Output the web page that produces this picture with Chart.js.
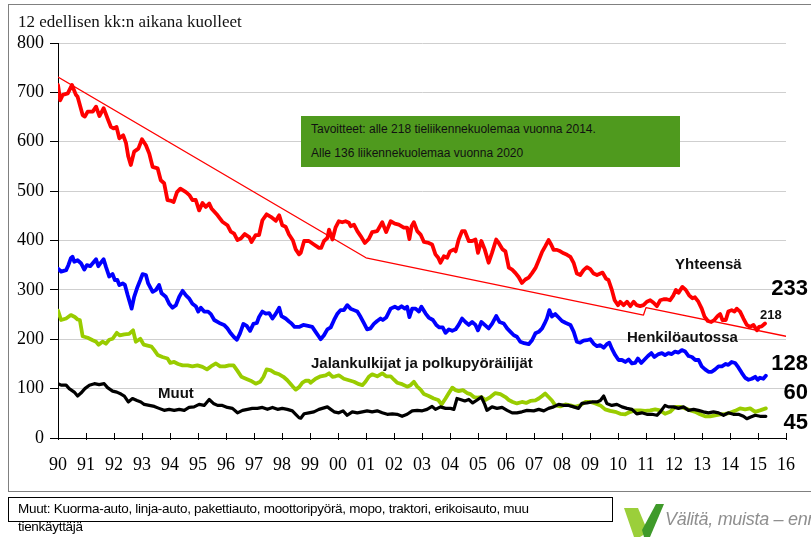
<!DOCTYPE html>
<html lang="fi">
<head>
<meta charset="UTF-8">
<title>Liikennekuolemat</title>
<script src="https://cdn.jsdelivr.net/npm/chart.js"></script>
<style>
  html, body { margin: 0; padding: 0; background: #fff; }
  #wrap { position: relative; width: 811px; height: 537px; overflow: hidden; font-family: "Liberation Sans", Arial, sans-serif; }
  #chart { position: absolute; left: 0; top: 0; }
  .frame { position: absolute; left: 8px; top: 4px; width: 810px; height: 486px; border: 1px solid #808080; }
  .t { position: absolute; white-space: nowrap; }
  .title { left: 18px; top: 12px; font: 17px/20px "Liberation Serif", "Times New Roman", serif; color: #111; }
  .goal { position: absolute; left: 301px; top: 116px; width: 379px; height: 51px; background: #4f9a1e; }
  .goal div { position: absolute; left: 10px; font: 12px/16px "Liberation Sans", Arial, sans-serif; color: #111; white-space: nowrap; }
  .lbl { font: bold 15px/18px "Liberation Sans", Arial, sans-serif; color: #111; }
  .big { font: bold 22px/26px "Liberation Sans", Arial, sans-serif; color: #000; text-align: right; width: 60px; }
  .note { position: absolute; left: 8px; top: 497px; width: 603px; height: 23px; border: 1px solid #000; }
  .notetext { left: 18px; top: 500px; font: 13.5px/18px "Liberation Sans", Arial, sans-serif; letter-spacing: -0.3px; color: #000; white-space: normal; width: 560px; }
  .slogan { left: 665px; top: 508px; font: italic 18px/22px "Liberation Sans", Arial, sans-serif; color: #8f8f8f; letter-spacing: -0.3px; }
</style>
</head>
<body>
<div id="wrap">
  <div class="frame"></div>
  <canvas id="chart" width="811" height="537"></canvas>
  <div class="t title">12 edellisen kk:n aikana kuolleet</div>
  <div class="goal">
    <div style="top:5px">Tavoitteet: alle 218 tieliikennekuolemaa vuonna 2014.</div>
    <div style="top:29px">Alle 136 liikennekuolemaa vuonna 2020</div>
  </div>
  <div class="t lbl" style="left:675px;top:255px">Yhteensä</div>
  <div class="t lbl" style="left:627px;top:328px">Henkilöautossa</div>
  <div class="t lbl" style="left:311px;top:354px">Jalankulkijat ja polkupyöräilijät</div>
  <div class="t lbl" style="left:158px;top:384px">Muut</div>
  <div class="t big" style="left:748px;top:275px">233</div>
  <div class="t big" style="left:748px;top:350px">128</div>
  <div class="t big" style="left:748px;top:379px">60</div>
  <div class="t big" style="left:748px;top:409px">45</div>
  <div class="t" style="left:760px;top:307px;font:bold 13px/16px 'Liberation Sans',Arial,sans-serif;color:#111">218</div>
  <div class="note"></div>
  <div class="t notetext">Muut: Kuorma-auto, linja-auto, pakettiauto, moottoripyörä, mopo, traktori, erikoisauto, muu tienkäyttäjä</div>
  <svg style="position:absolute;left:622px;top:502px" width="42" height="35">
    <polygon points="2,6 16,6 26,30 18,35 12,35" fill="#9bcf3a"/>
    <polygon points="20,28 34,2 42,2 28,35 22,35" fill="#3f9a2a"/>
  </svg>
  <div class="t slogan">Välitä, muista – ennakoi</div>
</div>
<script>
// 12 kk liukuva summa, luettu kuvasta (vuosi, kuolleet)
const totalYears = [1990.00,1990.08,1990.17,1990.35,1990.50,1990.64,1990.70,1990.88,1990.96,1991.06,1991.24,1991.36,1991.48,1991.63,1991.77,1991.89,1991.98,1992.09,1992.19,1992.33,1992.43,1992.51,1992.60,1992.72,1992.87,1993.00,1993.14,1993.26,1993.38,1993.56,1993.67,1993.79,1993.91,1994.01,1994.13,1994.25,1994.37,1994.57,1994.69,1994.80,1994.92,1995.04,1995.16,1995.28,1995.40,1995.48,1995.70,1995.87,1996.05,1996.17,1996.29,1996.41,1996.53,1996.67,1996.83,1996.91,1997.06,1997.18,1997.30,1997.45,1997.60,1997.78,1997.90,1998.01,1998.13,1998.25,1998.39,1998.49,1998.61,1998.67,1998.79,1998.96,1999.14,1999.32,1999.40,1999.50,1999.62,1999.68,1999.80,1999.91,2000.03,2000.15,2000.27,2000.39,2000.45,2000.57,2000.69,2000.81,2000.96,2001.10,2001.22,2001.40,2001.58,2001.72,2001.88,2002.03,2002.17,2002.35,2002.47,2002.55,2002.63,2002.71,2002.83,2002.95,2003.07,2003.24,2003.36,2003.48,2003.58,2003.66,2003.78,2003.90,2004.00,2004.14,2004.20,2004.31,2004.43,2004.53,2004.67,2004.79,2004.91,2005.00,2005.12,2005.24,2005.38,2005.50,2005.65,2005.74,2005.88,2005.98,2006.10,2006.22,2006.34,2006.45,2006.57,2006.69,2006.81,2006.93,2007.05,2007.17,2007.29,2007.40,2007.52,2007.62,2007.70,2007.82,2007.94,2008.06,2008.18,2008.30,2008.42,2008.53,2008.65,2008.77,2008.89,2009.01,2009.13,2009.25,2009.37,2009.45,2009.57,2009.66,2009.78,2009.88,2010.00,2010.08,2010.20,2010.32,2010.44,2010.56,2010.67,2010.79,2010.91,2011.03,2011.15,2011.27,2011.39,2011.51,2011.63,2011.74,2011.86,2011.98,2012.07,2012.16,2012.30,2012.42,2012.54,2012.66,2012.75,2012.87,2012.99,2013.09,2013.21,2013.33,2013.44,2013.56,2013.65,2013.73,2013.85,2013.94,2014.06,2014.16,2014.24,2014.36,2014.48,2014.60,2014.72,2014.84,2014.96,2015.04,2015.13,2015.25];
const totalDeaths = [715,684,695,698,715,695,691,654,651,661,661,671,652,668,647,630,627,630,607,613,597,570,553,580,586,605,593,576,549,546,522,516,482,481,478,498,505,498,492,482,482,461,476,468,475,465,451,438,431,418,414,401,404,413,407,397,411,411,441,453,448,440,451,431,428,412,400,382,372,375,399,399,392,385,385,399,405,422,402,426,439,437,439,436,429,432,419,409,395,403,417,419,437,417,439,434,432,426,426,403,429,437,419,412,397,395,392,372,365,355,368,365,378,382,378,402,419,419,399,399,402,375,399,382,355,375,402,395,382,378,345,341,334,326,314,321,325,334,344,360,377,388,401,391,381,381,378,374,371,367,354,333,330,340,346,342,333,330,333,335,323,320,300,279,269,276,269,276,267,276,269,267,269,276,279,274,267,279,281,281,279,289,300,294,306,300,289,283,285,276,262,246,237,235,239,247,251,239,239,256,259,256,262,256,242,229,225,229,218,225,226,232];

const carYears = [1990.00,1990.11,1990.29,1990.37,1990.46,1990.52,1990.58,1990.70,1990.82,1990.94,1991.03,1991.15,1991.24,1991.36,1991.44,1991.53,1991.63,1991.71,1991.83,1991.95,1992.03,1992.12,1992.19,1992.31,1992.39,1992.49,1992.63,1992.72,1992.84,1992.94,1993.02,1993.14,1993.22,1993.38,1993.50,1993.61,1993.70,1993.85,1993.97,1994.09,1994.21,1994.33,1994.45,1994.57,1994.68,1994.80,1994.92,1995.01,1995.10,1995.22,1995.36,1995.46,1995.58,1995.76,1995.93,1996.05,1996.17,1996.29,1996.39,1996.50,1996.62,1996.74,1996.86,1996.98,1997.10,1997.18,1997.30,1997.42,1997.54,1997.66,1997.78,1997.90,1997.98,1998.13,1998.25,1998.34,1998.45,1998.61,1998.76,1998.93,1999.08,1999.20,1999.32,1999.38,1999.50,1999.62,1999.74,1999.86,1999.97,2000.09,2000.21,2000.33,2000.45,2000.57,2000.69,2000.81,2000.93,2001.04,2001.16,2001.28,2001.40,2001.52,2001.60,2001.72,2001.88,2002.03,2002.15,2002.27,2002.39,2002.47,2002.55,2002.65,2002.77,2002.89,2002.98,2003.13,2003.24,2003.39,2003.51,2003.62,2003.74,2003.84,2003.96,2004.08,2004.20,2004.31,2004.43,2004.55,2004.67,2004.79,2004.91,2005.00,2005.12,2005.24,2005.38,2005.50,2005.65,2005.77,2005.92,2006.04,2006.16,2006.28,2006.39,2006.51,2006.65,2006.81,2006.93,2007.05,2007.17,2007.29,2007.38,2007.46,2007.55,2007.64,2007.76,2007.88,2008.00,2008.14,2008.30,2008.42,2008.53,2008.65,2008.77,2008.89,2009.01,2009.13,2009.25,2009.37,2009.49,2009.60,2009.69,2009.78,2009.90,2010.02,2010.14,2010.26,2010.38,2010.50,2010.61,2010.71,2010.83,2010.95,2011.07,2011.19,2011.30,2011.45,2011.57,2011.68,2011.80,2011.92,2012.04,2012.16,2012.28,2012.40,2012.52,2012.64,2012.76,2012.88,2012.99,2013.11,2013.23,2013.35,2013.47,2013.59,2013.71,2013.85,2013.94,2014.06,2014.18,2014.30,2014.42,2014.54,2014.66,2014.78,2014.90,2014.99,2015.07,2015.19,2015.28];
const carDeaths = [343,337,340,350,364,367,357,360,354,341,350,348,354,362,348,355,362,347,327,332,320,320,310,313,310,289,262,286,306,320,332,330,313,296,300,310,293,286,272,264,269,286,298,289,283,272,267,256,264,256,256,251,239,233,229,222,212,204,199,212,231,227,217,231,233,245,256,252,253,242,252,264,247,242,236,232,225,225,229,227,225,215,205,200,208,220,224,239,251,259,259,269,262,259,256,245,232,220,222,231,237,242,239,244,262,266,262,267,262,266,245,262,262,256,266,252,244,239,229,224,224,213,220,217,220,229,242,235,229,235,229,218,235,229,222,231,247,235,232,222,215,208,205,195,192,190,198,212,215,222,232,242,259,246,251,244,237,233,229,215,195,193,197,198,200,191,186,188,183,190,193,181,168,158,158,154,159,151,152,161,152,159,166,172,164,170,172,168,172,170,175,173,178,175,166,164,158,158,145,139,134,134,139,145,145,150,148,154,152,143,132,122,118,120,124,118,122,120,126];

const pedYears = [1990.00,1990.11,1990.29,1990.46,1990.60,1990.70,1990.78,1990.88,1991.06,1991.24,1991.36,1991.45,1991.59,1991.71,1991.83,1991.95,1992.10,1992.20,1992.37,1992.54,1992.68,1992.78,1992.94,1993.06,1993.20,1993.34,1993.44,1993.56,1993.73,1993.91,1994.01,1994.15,1994.29,1994.45,1994.63,1994.80,1994.98,1995.16,1995.32,1995.46,1995.64,1995.79,1995.96,1996.11,1996.27,1996.41,1996.55,1996.71,1996.88,1997.06,1997.22,1997.34,1997.45,1997.60,1997.74,1997.90,1998.05,1998.19,1998.30,1998.42,1998.49,1998.61,1998.73,1998.85,1998.96,1999.02,1999.20,1999.38,1999.56,1999.68,1999.80,1999.91,2000.03,2000.21,2000.39,2000.57,2000.75,2000.87,2000.98,2001.10,2001.22,2001.40,2001.58,2001.72,2001.88,2002.00,2002.11,2002.29,2002.47,2002.59,2002.71,2002.83,2002.95,2003.07,2003.24,2003.42,2003.58,2003.70,2003.84,2003.96,2004.08,2004.20,2004.31,2004.46,2004.61,2004.73,2004.85,2004.97,2005.12,2005.27,2005.44,2005.62,2005.80,2005.98,2006.10,2006.24,2006.39,2006.57,2006.72,2006.87,2007.05,2007.17,2007.29,2007.40,2007.52,2007.64,2007.76,2007.94,2008.12,2008.30,2008.47,2008.65,2008.83,2009.01,2009.19,2009.37,2009.54,2009.72,2009.90,2010.08,2010.26,2010.44,2010.61,2010.79,2010.97,2011.15,2011.33,2011.50,2011.68,2011.86,2012.04,2012.22,2012.40,2012.58,2012.76,2012.93,2013.11,2013.29,2013.47,2013.65,2013.83,2014.00,2014.18,2014.36,2014.54,2014.72,2014.90,2015.07,2015.28];
const pedDeaths = [258,239,242,249,245,240,239,206,203,198,195,189,195,191,199,201,213,208,210,211,218,195,201,189,187,185,178,168,164,161,152,154,150,147,147,145,147,144,139,145,151,145,145,147,147,136,124,120,116,110,114,124,139,137,132,129,124,117,110,102,98,103,112,116,116,112,120,125,127,131,124,125,127,120,117,114,109,107,114,124,129,125,131,125,125,118,112,109,104,107,114,104,98,89,85,80,77,68,80,91,102,97,95,97,91,89,83,82,83,77,83,91,89,83,77,73,70,73,71,75,76,80,85,90,83,76,66,64,68,66,63,66,73,73,70,66,58,55,53,49,48,53,56,56,55,56,58,56,49,53,63,63,60,56,53,48,44,44,46,48,49,51,55,60,58,60,53,56,60];

const otherYears = [1990.00,1990.11,1990.29,1990.40,1990.58,1990.70,1990.82,1990.96,1991.12,1991.30,1991.47,1991.65,1991.77,1991.95,1992.10,1992.25,1992.37,1992.51,1992.66,1992.82,1992.96,1993.08,1993.26,1993.44,1993.61,1993.79,1993.97,1994.15,1994.33,1994.51,1994.68,1994.86,1995.04,1995.22,1995.40,1995.55,1995.70,1995.87,1996.05,1996.23,1996.41,1996.59,1996.77,1996.94,1997.12,1997.30,1997.48,1997.66,1997.84,1998.01,1998.19,1998.37,1998.49,1998.61,1998.67,1998.79,1998.96,1999.14,1999.32,1999.44,1999.62,1999.74,1999.86,2000.03,2000.18,2000.33,2000.51,2000.69,2000.87,2001.04,2001.22,2001.40,2001.58,2001.76,2001.94,2002.11,2002.29,2002.47,2002.65,2002.83,2003.01,2003.18,2003.36,2003.48,2003.66,2003.84,2004.02,2004.14,2004.25,2004.37,2004.53,2004.67,2004.81,2004.97,2005.12,2005.24,2005.32,2005.50,2005.68,2005.86,2006.04,2006.22,2006.39,2006.57,2006.75,2006.99,2007.17,2007.35,2007.52,2007.70,2007.88,2008.06,2008.24,2008.42,2008.59,2008.71,2008.89,2009.07,2009.25,2009.37,2009.49,2009.60,2009.78,2009.96,2010.14,2010.32,2010.50,2010.67,2010.85,2011.03,2011.21,2011.39,2011.51,2011.68,2011.80,2011.98,2012.16,2012.34,2012.52,2012.70,2012.87,2013.05,2013.23,2013.41,2013.59,2013.77,2013.94,2014.12,2014.30,2014.48,2014.60,2014.72,2014.90,2015.07,2015.28];
const otherDeaths = [110,107,107,100,93,85,91,100,107,110,108,110,102,95,93,89,85,73,80,76,73,68,66,64,60,56,58,56,58,56,62,63,68,66,78,70,66,66,62,60,51,56,58,60,60,62,58,62,58,60,58,55,48,41,40,49,51,53,58,60,63,58,53,51,55,46,53,51,53,55,53,55,51,48,49,48,44,48,55,56,55,58,64,58,63,60,60,58,80,78,75,78,71,77,83,68,56,63,60,62,56,51,51,53,56,55,58,55,60,63,68,66,66,63,60,70,71,73,73,76,85,70,66,68,63,60,58,49,51,48,48,46,53,66,63,63,60,63,56,58,56,53,51,53,51,46,51,48,48,44,39,42,46,44,44];

// tavoiteviiva
const targetYears = [1990, 2001, 2010.91, 2011.0, 2016];
const targetValues = [731, 365, 249, 264, 206];

const yTicks = [0, 100, 200, 300, 400, 500, 600, 700, 800];

function pts(xs, ys) {
  return xs.map((x, i) => ({ x: x, y: ys[i] }));
}

// pienet pystyviivat x-akselin yläpuolelle
const xTickMarks = {
  id: 'xTickMarks',
  afterDraw(chart) {
    const xs = chart.scales.x, ctx = chart.ctx;
    const y0 = chart.chartArea.bottom;
    ctx.save();
    ctx.strokeStyle = '#000';
    ctx.lineWidth = 1;
    xs.ticks.forEach(t => {
      const px = Math.round(xs.getPixelForValue(t.value)) + 0.5;
      ctx.beginPath();
      ctx.moveTo(px, y0 - 5);
      ctx.lineTo(px, y0 + 2);
      ctx.stroke();
    });
    ctx.restore();
  }
};

const line = (data, color, width) => ({
  data: data,
  borderColor: color,
  borderWidth: width,
  pointRadius: 0,
  tension: 0,
  fill: false,
  borderJoinStyle: 'round',
  borderCapStyle: 'round'
});

new Chart(document.getElementById('chart'), {
  type: 'line',
  data: {
    datasets: [
      line(pts(totalYears, totalDeaths), '#ff0000', 3.8),
      line(pts(targetYears, targetValues), '#ff0000', 1.3),
      line(pts(carYears, carDeaths), '#0000ff', 3.8),
      line(pts(otherYears, otherDeaths), '#000000', 3.2),
      line(pts(pedYears, pedDeaths), '#99cc00', 3.8)
    ]
  },
  options: {
    responsive: false,
    animation: false,
    layout: { padding: { left: 0, top: 43, right: 23, bottom: 59 } },
    plugins: { legend: { display: false }, tooltip: { enabled: false } },
    scales: {
      x: {
        type: 'linear',
        min: 1990,
        max: 2016,
        afterFit: s => { s.height = 40; },
        border: { color: '#000', width: 1 },
        grid: { display: true, drawOnChartArea: false, drawTicks: false },
        ticks: {
          stepSize: 1,
          padding: 16,
          color: '#000',
          font: { family: '"Liberation Serif", "Times New Roman", serif', size: 18 },
          callback: v => String(v % 100).padStart(2, '0')
        }
      },
      y: {
        min: 0,
        max: 800,
        afterFit: s => { s.width = 58; },
        afterBuildTicks: s => { s.ticks = yTicks.map(v => ({ value: v })); },
        border: { color: '#000', width: 1 },
        grid: { color: '#cfcfcf', lineWidth: 1, tickColor: '#000', tickLength: 8 },
        ticks: {
          padding: 6,
          color: '#000',
          font: { family: '"Liberation Serif", "Times New Roman", serif', size: 18 }
        }
      }
    }
  },
  plugins: [xTickMarks]
});
</script>
</body>
</html>
